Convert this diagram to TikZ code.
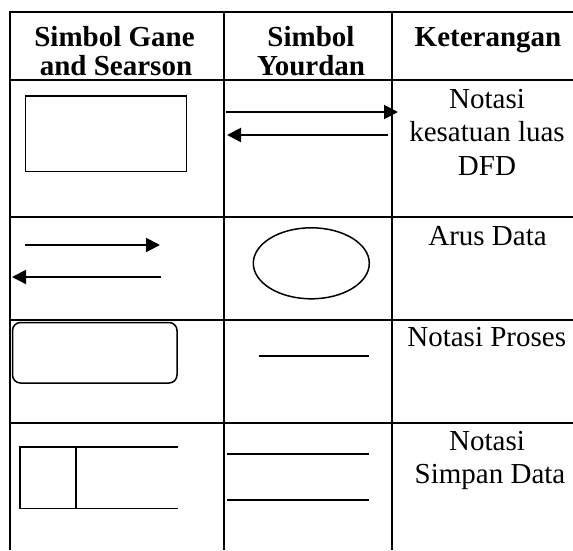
\documentclass[tikz,border=0pt]{standalone}
\usepackage{fontspec}
\setmainfont{Liberation Serif}
\usetikzlibrary{arrows.meta}
\begin{document}
\begin{tikzpicture}[x=1pt,y=-1pt,
  rule/.style={line width=2pt},
  symb/.style={line width=1.5pt},
  flow/.style={line width=2pt,-{Triangle[length=14pt,width=14pt]}},
  hd/.style={font=\fontsize{29}{29}\selectfont\bfseries, anchor=base, inner sep=0pt},
  tx/.style={font=\fontsize{29}{33}\selectfont, anchor=base, inner sep=0pt}]
\useasboundingbox (0,0) rectangle (573,550);

% table rules
\draw[rule] (10,550) -- (10,12) -- (573,12);
\draw[rule] (224,12) -- (224,550);
\draw[rule] (392,12) -- (392,550);
\foreach \yy in {80,216.7,319.5,423} \draw[rule] (10,\yy) -- (573,\yy);

% header
\node[hd] (h1a) at (114.5,46) {Simbol Gane};
\node[hd] (h1b) at (116,75) {and Searson};
\node[hd] (h2a) at (311,46) {Simbol};
\node[hd] (h2b) at (311,75) {Yourdan};
\node[hd] (h3)  at (488,46) {Keterangan};

% row 1: external entity
\draw[symb] (25.5,96) rectangle (186.5,171.5);
\draw[flow] (226,112) -- (398,112);
\draw[flow] (388,135) -- (227,135);
\node[tx] (k1a) at (487,108.3) {Notasi};
\node[tx] (k1b) at (487,141.7) {kesatuan luas};
\node[tx] (k1c) at (487,175) {DFD};

% row 2: data flow
\draw[flow] (25,245) -- (160,245);
\draw[flow] (161,277) -- (12,277);
\draw[symb] (311.3,263.3) ellipse [x radius=58pt, y radius=35.5pt];
\node[tx] (k2) at (487.5,245.5) {Arus Data};

% row 3: process
\draw[symb, rounded corners=8pt] (12.5,322.5) rectangle (177,383);
\draw[rule] (258.5,356) -- (368.8,356);
\node[tx] (k3) at (486.7,346) {Notasi Proses};

% row 4: data store
\draw[symb] (177.5,447) -- (20,447) -- (20,508.7) -- (177.5,508.7);
\draw[symb] (76,447) -- (76,508.7);
\draw[rule] (227,453.7) -- (368.5,453.7);
\draw[rule] (227,500) -- (368.5,500);
\node[tx] (k4a) at (487,450.5) {Notasi};
\node[tx] (k4b) at (490,483.5) {Simpan Data};
\end{tikzpicture}
\end{document}
